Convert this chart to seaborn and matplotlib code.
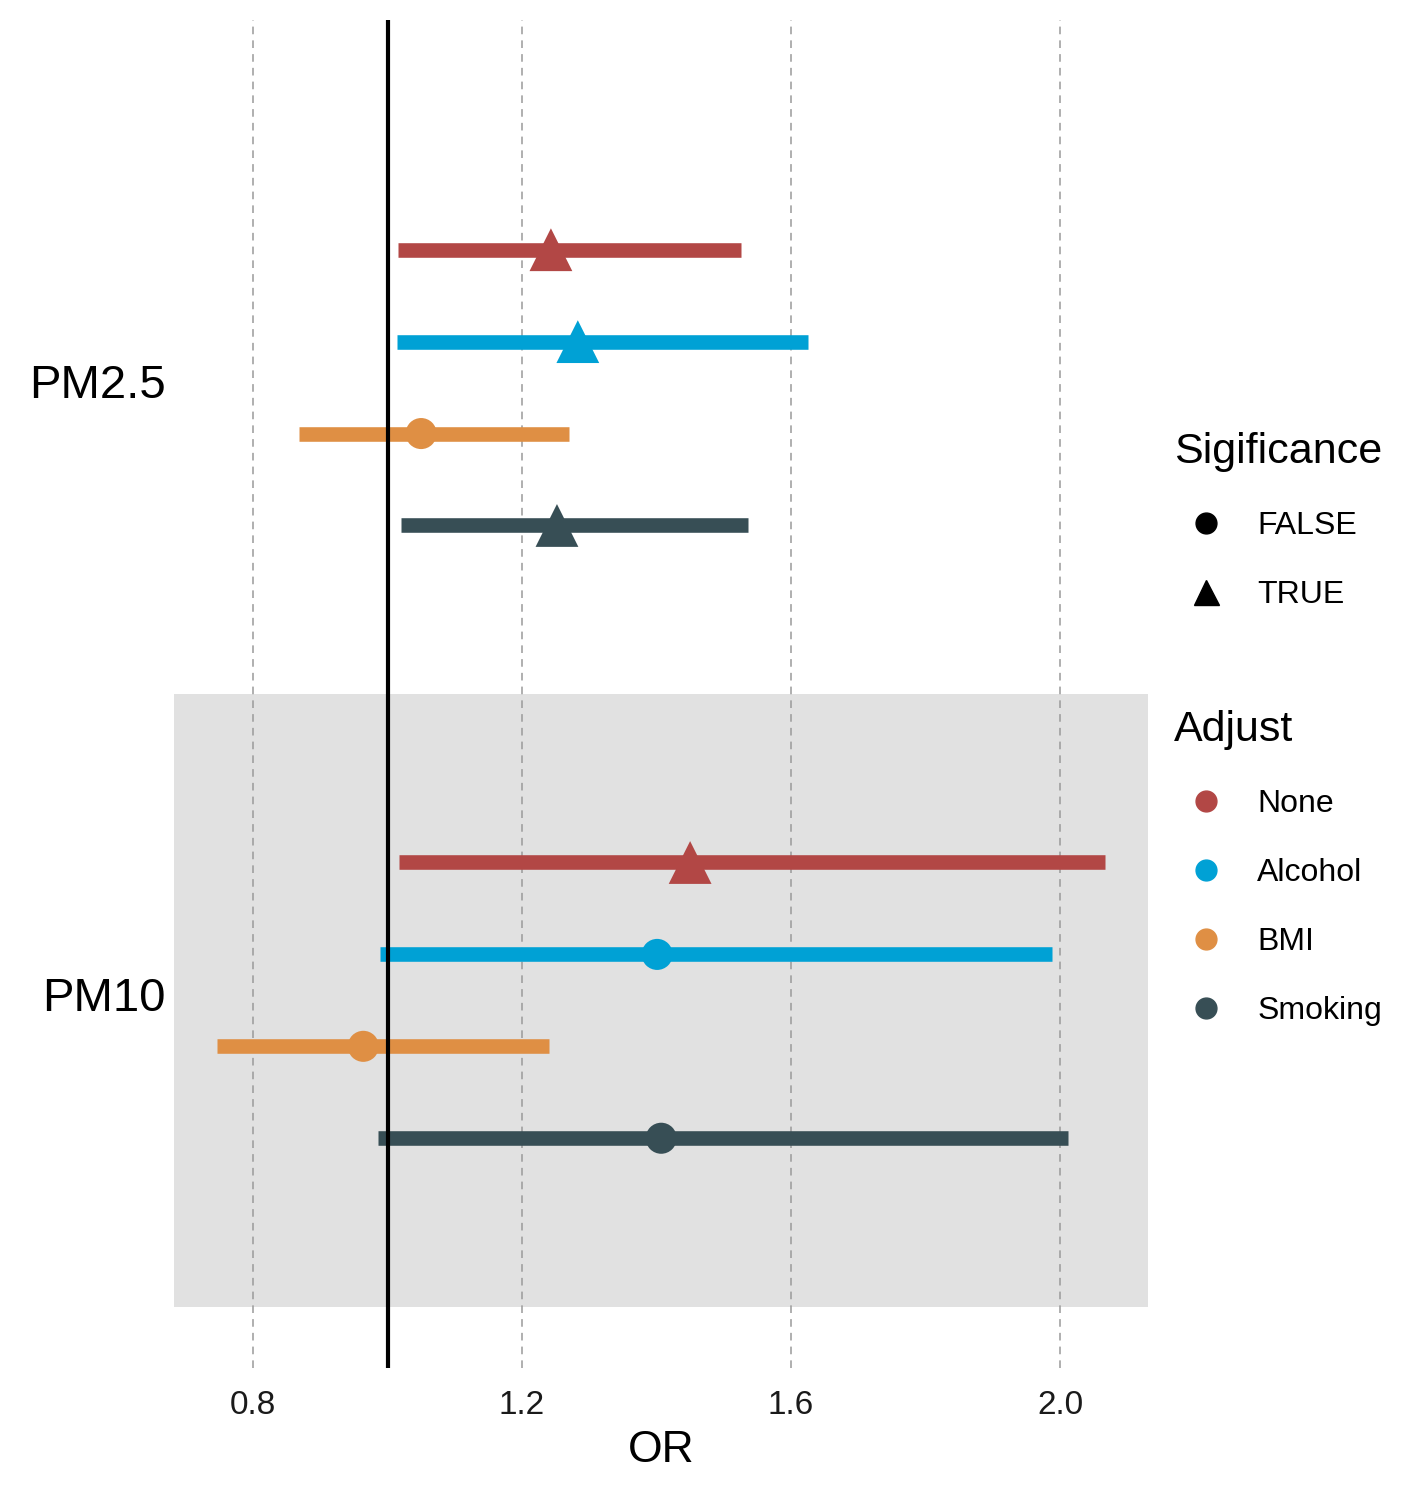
import seaborn as sns
import matplotlib.pyplot as plt
from matplotlib.lines import Line2D
import pandas as pd

# -----------------------------
# data
# -----------------------------
pollutants = ["PM2.5", "PM10"]
adjust_levels = ["None", "Alcohol", "BMI", "Smoking"]

or_pm25 = [1.243, 1.283, 1.050, 1.252]
lo_pm25 = [1.016, 1.014, 0.868, 1.020]
hi_pm25 = [1.526, 1.625, 1.270, 1.536]
sig_pm25 = [True, True, False, True]

or_pm10 = [1.450, 1.401, 0.964, 1.407]
lo_pm10 = [1.017, 0.989, 0.746, 0.986]
hi_pm10 = [2.067, 1.988, 1.240, 2.012]
sig_pm10 = [True, False, False, False]

colors = {"None": "#B24745", "Alcohol": "#00A1D5", "BMI": "#DF8F44", "Smoking": "#374E55"}

rows = []
for p, ors, los, his, sigs in [("PM2.5", or_pm25, lo_pm25, hi_pm25, sig_pm25),
                               ("PM10", or_pm10, lo_pm10, hi_pm10, sig_pm10)]:
    for a, o, l, h, s in zip(adjust_levels, ors, los, his, sigs):
        rows.append([p, a, o, l, h, s])
df = pd.DataFrame(rows, columns=["Pollutant", "Adjust", "OR", "Lower", "Upper", "Sig"])

# group centres (PM2.5 on top) and dodge offsets within a group
group_pos = {"PM2.5": 2, "PM10": 1}
dodge = {"None": 0.225, "Alcohol": 0.075, "BMI": -0.075, "Smoking": -0.225}
df["y"] = df["Pollutant"].map(group_pos) + df["Adjust"].map(dodge)

# -----------------------------
# styling
# -----------------------------
sns.set_theme(style="white")
plt.rcParams["font.family"] = ["Liberation Sans", "DejaVu Sans"]
plt.rcParams["text.color"] = "black"
plt.rcParams["axes.labelcolor"] = "black"

fig = plt.figure(figsize=(14.17, 14.87), dpi=100)
ax = fig.add_axes([0.1228, 0.08, 0.6874, 0.9066])

# shaded band behind the PM10 group
ax.axhspan(0.5, 1.5, color="#E1E1E1", zorder=0, lw=0)

# CI bars
ax.hlines(df["y"], df["Lower"], df["Upper"],
          colors=df["Adjust"].map(colors), lw=10.5, zorder=2)

# reference line at OR = 1
ax.axvline(1.0, color="black", lw=3, zorder=3)

# point estimates
sns.scatterplot(data=df, x="OR", y="y", hue="Adjust", palette=colors,
                style="Sig", markers={False: "o", True: "^"},
                size="Sig", sizes={False: 500, True: 950},
                linewidth=0, legend=False, ax=ax, zorder=4)

ax.set_xlim(0.6825, 2.131)
ax.set_ylim(0.4, 2.6)
ax.set_xticks([0.8, 1.2, 1.6, 2.0])
ax.set_xticklabels(["0.8", "1.2", "1.6", "2.0"])
ax.set_yticks([group_pos[p] + 0.01 for p in pollutants])
ax.set_yticklabels(pollutants)
ax.tick_params(axis="x", labelsize=24, labelcolor="#1a1a1a", length=0, pad=16)
ax.tick_params(axis="y", labelsize=34, labelcolor="black", length=0, pad=6)
ax.grid(axis="x", color="#9a9a9a", linestyle=(0, (5, 4)), lw=1.1, zorder=1)
ax.grid(axis="y", visible=False)
ax.set_axisbelow(True)
for s in ax.spines.values():
    s.set_visible(False)
ax.set_facecolor("none")
ax.set_xlabel("OR", fontsize=32, labelpad=6)
ax.set_ylabel("")

# -----------------------------
# legends
# -----------------------------
sig_handles = [
    Line2D([], [], marker="o", color="black", ls="", markersize=15),
    Line2D([], [], marker="^", color="black", ls="", markersize=18),
]
leg1 = fig.legend(sig_handles, ["FALSE", "TRUE"], title="Sigificance",
                  loc="upper left", bbox_to_anchor=(0.8195, 0.718),
                  frameon=False, fontsize=23, title_fontsize=31,
                  labelspacing=1.22, handletextpad=0.6, borderaxespad=0,
                  alignment="left")

adj_handles = [Line2D([], [], marker="o", color=colors[a], ls="", markersize=15)
               for a in adjust_levels]
leg2 = fig.legend(adj_handles, adjust_levels, title="Adjust",
                  loc="upper left", bbox_to_anchor=(0.8195, 0.531),
                  frameon=False, fontsize=23, title_fontsize=31,
                  labelspacing=1.22, handletextpad=0.6, borderaxespad=0,
                  alignment="left")

fig.savefig("out.png", dpi=100)
plt.close(fig)
